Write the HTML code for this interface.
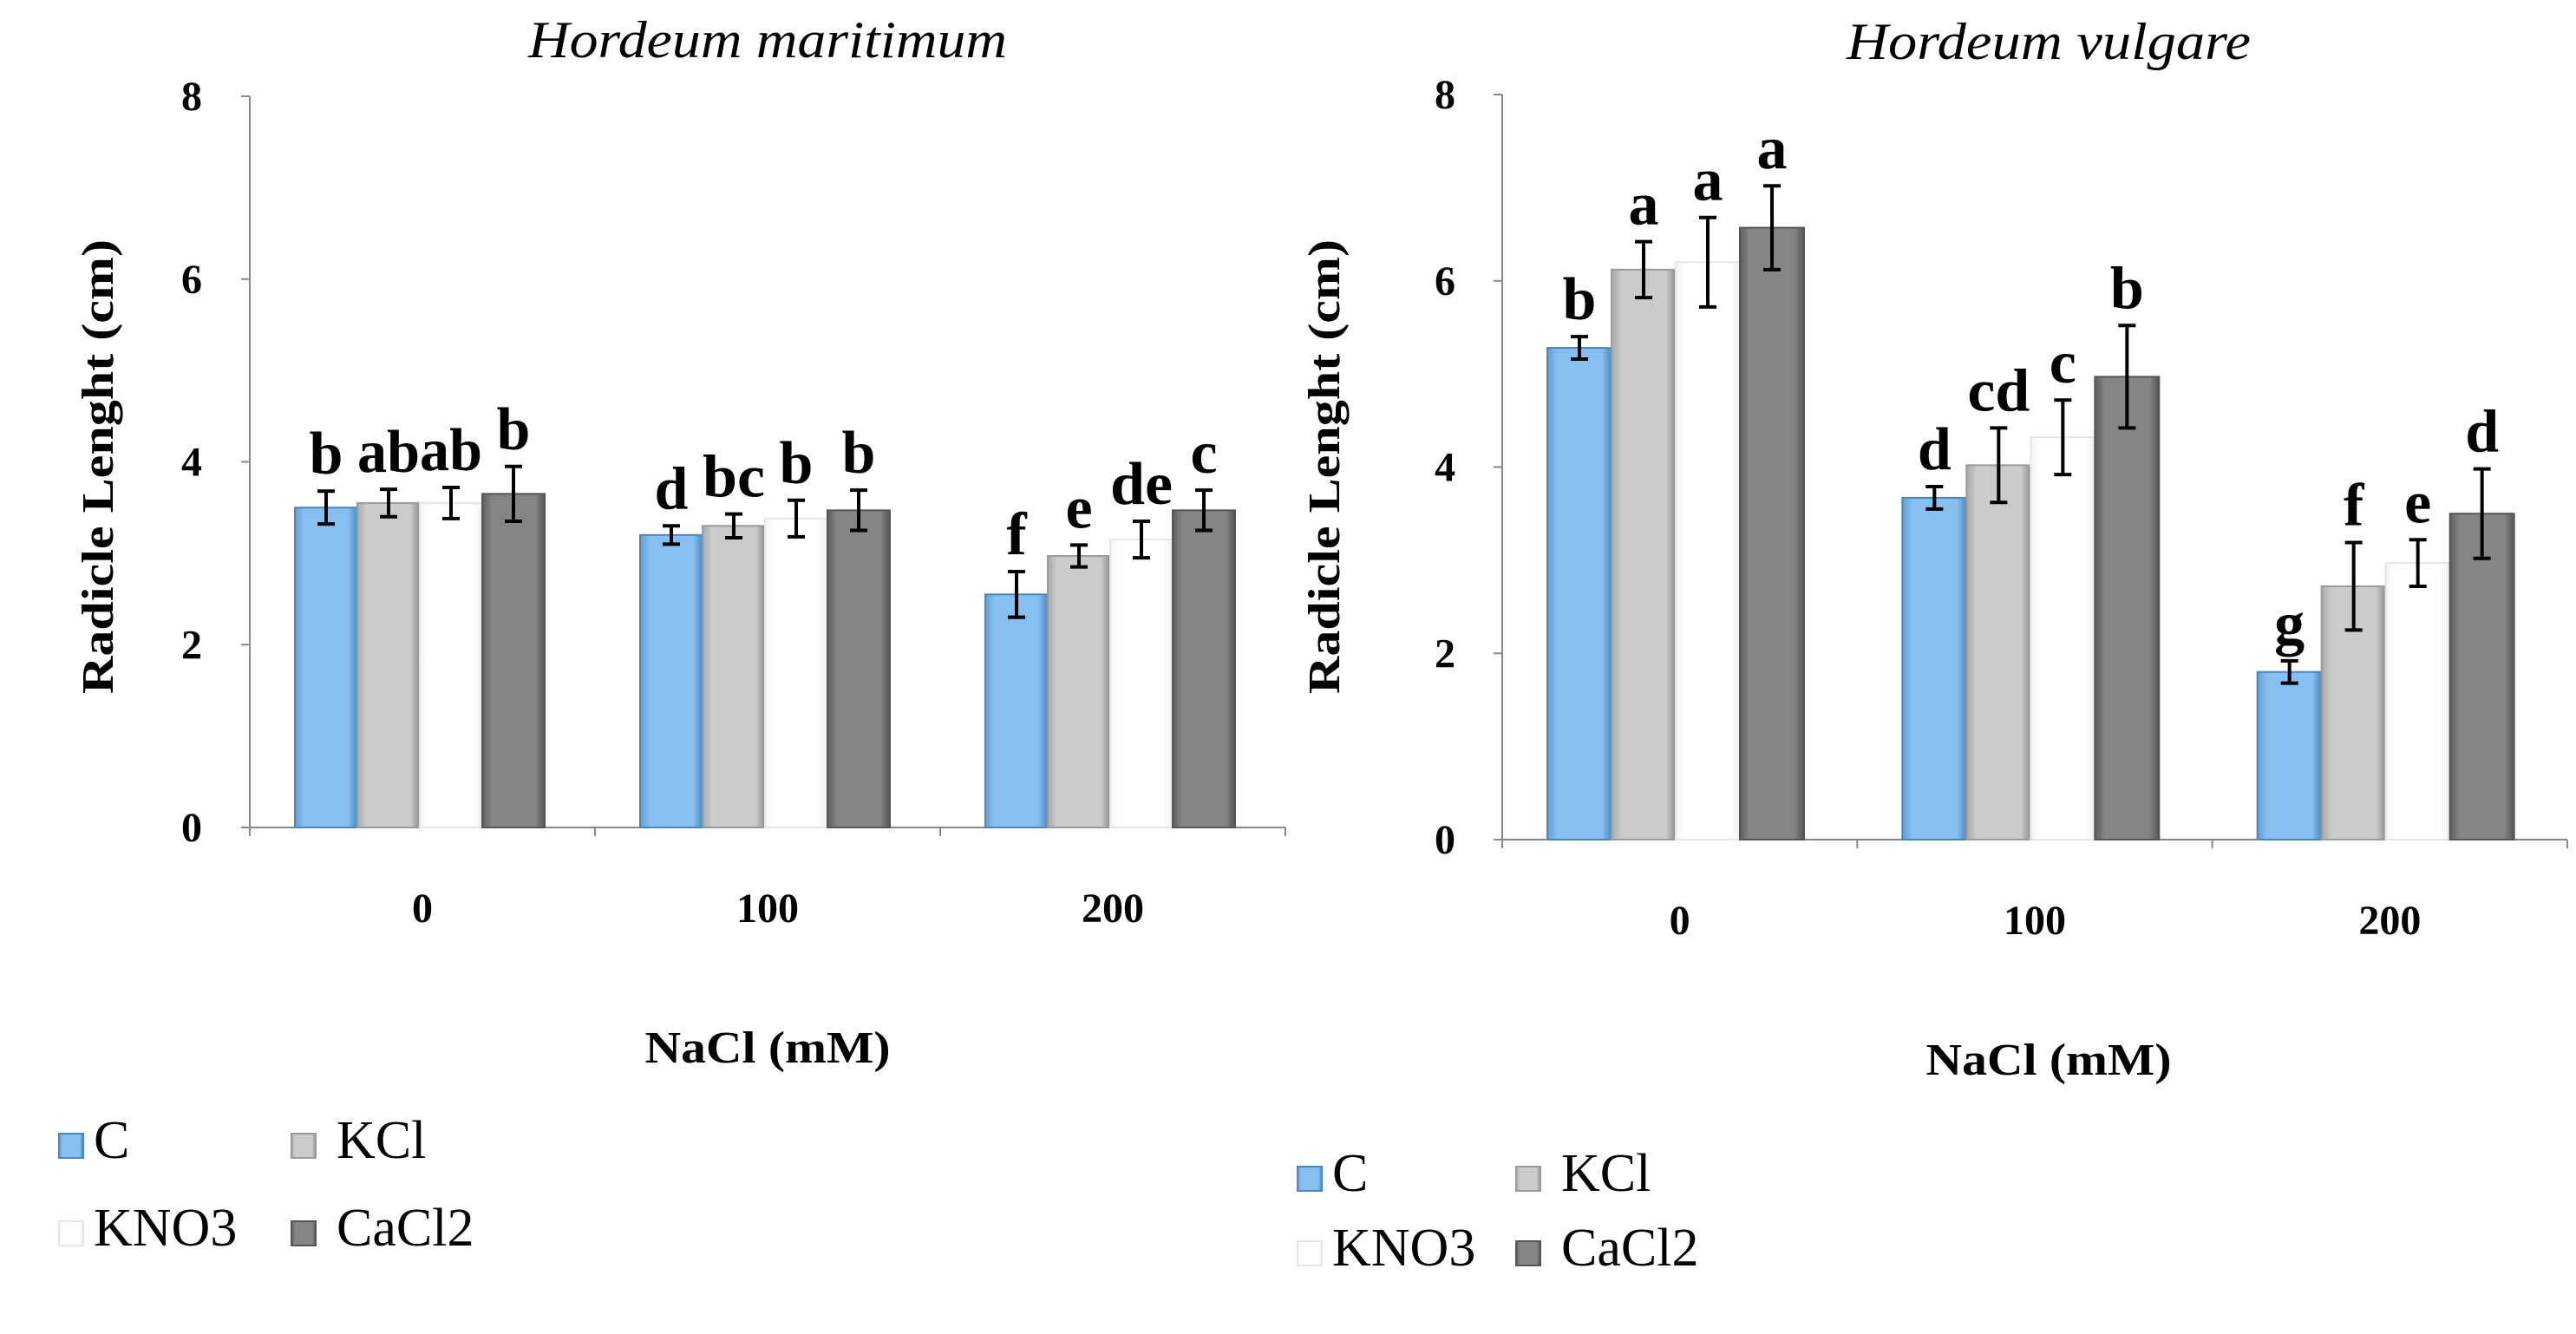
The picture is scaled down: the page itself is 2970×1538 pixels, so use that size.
<!DOCTYPE html>
<html><head><meta charset="utf-8"><style>
html,body{margin:0;padding:0;background:#fff;}
svg{display:block;}
text{font-family:"Liberation Serif",serif;}
</style></head><body>
<svg id="chart" width="2970" height="1538" viewBox="0 0 2970 1538">
<defs>
<linearGradient id="gC" x1="0" x2="1"><stop offset="0" stop-color="#5f9fd6"/><stop offset="0.15" stop-color="#86bff0"/><stop offset="0.85" stop-color="#86bff0"/><stop offset="1" stop-color="#4f88bb"/></linearGradient>
<linearGradient id="gK" x1="0" x2="1"><stop offset="0" stop-color="#a8a8a8"/><stop offset="0.15" stop-color="#cbcbcb"/><stop offset="0.85" stop-color="#cbcbcb"/><stop offset="1" stop-color="#8e8e8e"/></linearGradient>
<linearGradient id="gN" x1="0" x2="1"><stop offset="0" stop-color="#f4f4f4"/><stop offset="0.15" stop-color="#ffffff"/><stop offset="0.85" stop-color="#ffffff"/><stop offset="1" stop-color="#f0f0f0"/></linearGradient>
<linearGradient id="gCa" x1="0" x2="1"><stop offset="0" stop-color="#5e5e5e"/><stop offset="0.15" stop-color="#858585"/><stop offset="0.85" stop-color="#858585"/><stop offset="1" stop-color="#555"/></linearGradient>
</defs>
</svg>
<script>
const categories = ["0","100","200"];
const seriesNames = ["C","KCl","KNO3","CaCl2"];
const yTicks = [0,2,4,6,8];
// Hordeum maritimum
const hmC = [3.5,3.2,2.55], hmK = [3.55,3.3,2.97], hmN = [3.55,3.38,3.15], hmCa = [3.65,3.47,3.47];
const hmErrC = [0.18,0.1,0.25], hmErrK = [0.15,0.13,0.12], hmErrN = [0.17,0.2,0.2], hmErrCa = [0.3,0.22,0.22];
const hmLetC = ["b","d","f"], hmLetK = ["ab","bc","e"], hmLetN = ["ab","b","de"], hmLetCa = ["b","b","c"];
// Hordeum vulgare
const hvC = [5.28,3.67,1.8], hvK = [6.12,4.02,2.72], hvN = [6.2,4.32,2.97], hvCa = [6.57,4.97,3.5];
const hvErrC = [0.12,0.12,0.12], hvErrK = [0.3,0.4,0.47], hvErrN = [0.48,0.4,0.25], hvErrCa = [0.45,0.55,0.48];
const hvLetC = ["b","d","g"], hvLetK = ["a","cd","f"], hvLetN = ["a","c","e"], hvLetCa = ["a","b","d"];

const NS="http://www.w3.org/2000/svg";
const svg=document.getElementById('chart');
const fills=["url(#gC)","url(#gK)","url(#gN)","url(#gCa)"];
const strokes=["#4a86bb","#9a9a9a","#e6e6e6","#555"];
function mk(tag,attrs,parent){const e=document.createElementNS(NS,tag);for(const k in attrs)e.setAttribute(k,attrs[k]);(parent||svg).appendChild(e);return e;}

function drawPanel(p){
  const g=mk('g',{});
  
  
  const y=v=>p.y0-(v/8)*(p.y0-p.y8);
  const catW=(p.xR-p.x0)/3;
  const ax=mk('line',{x1:p.x0,y1:p.y8,x2:p.x0,y2:p.y0,stroke:'#888','stroke-width':2},g);
  
  const bx=mk('line',{x1:p.x0,y1:p.y0,x2:p.xR,y2:p.y0,stroke:'#888','stroke-width':2},g);
  
  yTicks.forEach(t=>{
    mk('line',{x1:p.x0-10,y1:y(t),x2:p.x0,y2:y(t),stroke:'#888','stroke-width':2},g);
    const tx=mk('text',{x:p.tickX,y:y(t)+16,'text-anchor':'middle','font-size':48,'font-weight':'bold'},g);
    tx.textContent=t;
    
  });
  for(let i=0;i<=3;i++) mk('line',{x1:p.x0+i*catW,y1:p.y0,x2:p.x0+i*catW,y2:p.y0+10,stroke:'#888','stroke-width':2},g);
  const series=[p.C,p.K,p.N,p.Ca], errs=[p.eC,p.eK,p.eN,p.eCa], lets=[p.lC,p.lK,p.lN,p.lCa];
  categories.forEach((c,ci)=>{
    const gx=p.x0+ci*catW+p.pad;
    series.forEach((s,si)=>{
      const v=s[ci], bx0=gx+si*p.bw, top=y(v);
      const r=mk('rect',{x:bx0,y:top,width:p.bw,height:p.y0-top,fill:fills[si],stroke:strokes[si],'stroke-width':2},g);
      
      
      const cx=bx0+p.bw/2, e=errs[si][ci];
      const et=y(v+e), eb=y(v-e);
      const eg=mk('path',{d:`M${cx},${et}V${eb}M${cx-10},${et}H${cx+10}M${cx-10},${eb}H${cx+10}`,stroke:'#000','stroke-width':4,fill:'none'},g);
      
      const lt=mk('text',{x:cx,y:et-20,'text-anchor':'middle','font-size':70,'font-weight':'bold'},g);
      lt.textContent=lets[si][ci];
      if(lets[si][ci].length>1){lt.setAttribute('textLength',72);lt.setAttribute('lengthAdjust','spacingAndGlyphs');}
      
    });
    const xl=mk('text',{x:p.x0+(ci+0.5)*catW,y:p.catY,'text-anchor':'middle','font-size':48,'font-weight':'bold'},g);
    xl.textContent=c;
    
  });
  const tt=mk('text',{x:p.titleX,y:p.titleY,'text-anchor':'middle','font-size':60,'font-style':'italic',textLength:p.titleLen,lengthAdjust:'spacingAndGlyphs'},g);
  tt.textContent=p.title;
  const yt=mk('text',{x:0,y:0,'text-anchor':'middle','font-size':52,'font-weight':'bold',textLength:524,lengthAdjust:'spacingAndGlyphs',transform:`translate(${p.yTitleX},${p.yTitleY}) rotate(-90)`},g);
  yt.textContent='Radicle Lenght (cm)';
  const xt=mk('text',{x:p.titleX,y:p.xTitleY,'text-anchor':'middle','font-size':52,'font-weight':'bold',textLength:283,lengthAdjust:'spacingAndGlyphs'},g);
  xt.textContent='NaCl (mM)';
  const pos=[[p.lgX,p.lgY],[p.lgX2,p.lgY],[p.lgX,p.lgY2],[p.lgX2,p.lgY2]];
  seriesNames.forEach((n,i)=>{
    const lg=mk('g',{},g);
    
    
    mk('rect',{x:pos[i][0],y:pos[i][1]-28,width:28,height:28,fill:fills[i],stroke:strokes[i],'stroke-width':2},lg);
    const lt=mk('text',{x:pos[i][0]+(i%2?52:40),y:pos[i][1],'font-size':62},lg);
    lt.textContent=n;
  });
}
drawPanel({name:'panel-hordeum-maritimum',title:'Hordeum maritimum',x0:288,xR:1482,y0:954,y8:111,pad:52,bw:72,tickX:221,catY:1063,titleX:885,titleY:66,titleLen:552,yTitleX:130,yTitleY:538,xTitleY:1225,
  C:hmC,K:hmK,N:hmN,Ca:hmCa,eC:hmErrC,eK:hmErrK,eN:hmErrN,eCa:hmErrCa,lC:hmLetC,lK:hmLetK,lN:hmLetN,lCa:hmLetCa,
  lgX:68,lgX2:336,lgY:1335,lgY2:1436});
drawPanel({name:'panel-hordeum-vulgare',title:'Hordeum vulgare',x0:1732,xR:2960,y0:968,y8:109,pad:52,bw:74,tickX:1666,catY:1077,titleX:2362,titleY:68,titleLen:466,yTitleX:1544,yTitleY:538,xTitleY:1239,
  C:hvC,K:hvK,N:hvN,Ca:hvCa,eC:hvErrC,eK:hvErrK,eN:hvErrN,eCa:hvErrCa,lC:hvLetC,lK:hvLetK,lN:hvLetN,lCa:hvLetCa,
  lgX:1496,lgX2:1748,lgY:1373,lgY2:1459});
</script>
</body></html>
